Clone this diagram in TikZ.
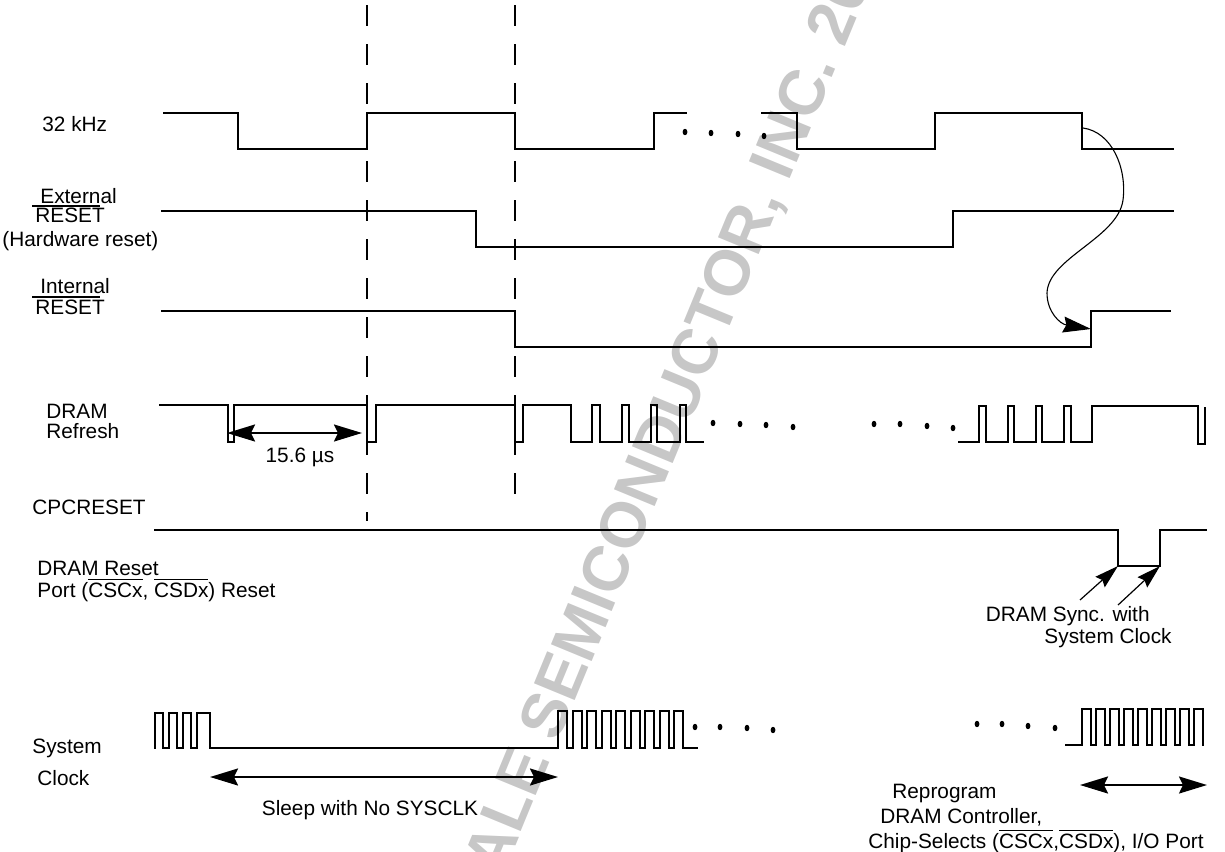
\documentclass[tikz,border=0pt]{standalone}
\usepackage{fontspec}
\setmainfont{Liberation Sans}
\usetikzlibrary{arrows.meta}
\newcommand{\olin}[1]{$\overline{\hbox{#1}}$}
\begin{document}
\begin{tikzpicture}[x=0.5pt,y=-0.5pt,
  sig/.style={line width=1pt, line join=miter, line cap=rect},
  thinsig/.style={line width=0.55pt},
  vdash/.style={line width=1pt, dash pattern=on 10.5pt off 9pt},
  lbl/.style={font=\fontsize{10.4}{12}\selectfont, inner sep=0pt, anchor=base west},
  lblc/.style={font=\fontsize{10.4}{12}\selectfont, inner sep=0pt},
  bigtip/.style={line width=1pt, {Stealth[length=14pt,width=8.5pt,inset=2pt]}-{Stealth[length=14pt,width=8.5pt,inset=2pt]}},
  synctip/.style={line width=0.6pt, -{Stealth[length=12pt,width=7pt,inset=1.5pt]}},
  wm/.style={font=\fontsize{32}{36}\selectfont\bfseries, text=black!22, inner sep=0pt}]
\useasboundingbox (0,0) rectangle (1225,851);

% watermark
\begin{scope}
\clip (0,0) rectangle (1225,851);
\node[wm, rotate=67.6, anchor=base west] (wmark) at (403,1119) {FREESCALE SEMICONDUCTOR, INC. 2005};
\end{scope}

% dashed guide lines
\draw[vdash] (367,5) -- (367,521);
\draw[vdash] (515,5) -- (515,502);

% labels
\node[lbl] (k32) at (42,131) {32 kHz};
\node[lbl] (ext1) at (40,203) {External};
\node[lbl] (ext2) at (35,222) {RESET};
\node[lbl] (ext3) at (2,246) {(Hardware reset)};
\draw[line width=0.7pt] (32,206) -- (100,206);
\node[lbl] (int1) at (40,293) {Internal};
\node[lbl] (int2) at (35,314) {RESET};
\draw[line width=0.7pt] (32,297) -- (100,297);
\node[lbl] (dr1) at (46,418) {DRAM};
\node[lbl] (dr2) at (46,438) {Refresh};
\node[lbl] (cpc) at (32,514) {CPCRESET};
\node[lbl] (drr1) at (37,575) {DRAM Reset};
\node[lbl] (drr2) at (37,597) {Port (\olin{CSCx}, \olin{CSDx}) Reset};
\node[lbl] (sys1) at (32,753) {System};
\node[lbl] (sys2) at (37,785) {Clock};
\node[lblc] (t156) at (300,457) {15.6 µs};
\node[lblc] (sleep) at (370,810) {Sleep with No SYSCLK};
\node[lbl, anchor=base east] (sync1) at (1150,621) {DRAM Sync. with};
\node[lbl, anchor=base east] (sync2) at (1172,643) {System Clock};
\node[lbl] (rp1) at (892,798) {Reprogram};
\node[lbl] (rp2) at (880,823) {DRAM Controller,};
\node[lbl] (rp3) at (868,848) {Chip-Selects (\olin{CSCx},\olin{CSDx}), I/O Port};

% 32 kHz
\draw[sig] (164,113) -- (238,113) -- (238,149) -- (367,149) -- (367,113) -- (515,113) -- (515,149) -- (654,149) -- (654,113) -- (686,113);
\draw[sig] (762,113) -- (797,113) -- (797,149) -- (935,149) -- (935,113) -- (1082,113) -- (1082,149) -- (1173,149);
\foreach \x/\y in {685/132,711/133,738/134,764/136}
  \fill (\x,\y) ellipse [x radius=1.2pt, y radius=1.6pt];

% External RESET
\draw[sig] (162,211) -- (476,211) -- (476,247) -- (953,247) -- (953,211) -- (1173,211);

% Internal RESET
\draw[sig] (162,311) -- (515,311) -- (515,347);
\draw[thinsig] (515,347) -- (1091,347);
\draw[sig] (1091,347) -- (1091,311) -- (1170,311);

% DRAM Refresh
\draw[sig] (160,405) -- (228,405) -- (228,442) -- (234,442) -- (234,405) -- (367,405) -- (367,442) -- (376,442) -- (376,405)
  -- (515,405) -- (515,442) -- (523,442) -- (523,405) -- (571,405) -- (571,442) -- (592,442) -- (592,405) -- (600,405)
  -- (600,442) -- (622,442) -- (622,405) -- (629,405) -- (629,442) -- (651,442) -- (651,405) -- (657,405) -- (657,442)
  -- (680,442) -- (680,405) -- (686,405) -- (686,442) -- (703,442);
\draw[sig] (959,442) -- (979,442) -- (979,406) -- (986,406) -- (986,442) -- (1008,442) -- (1008,406) -- (1014,406)
  -- (1014,442) -- (1036,442) -- (1036,406) -- (1042,406) -- (1042,442) -- (1064,442) -- (1064,406) -- (1071,406)
  -- (1071,442) -- (1092,442) -- (1092,406) -- (1198,406) -- (1198,444) -- (1205,444) -- (1205,408);
\foreach \x/\y in {713/423,740/424,766/425,793/427,874/424,900/424,927/426,953/428}
  \fill (\x,\y) ellipse [x radius=1.2pt, y radius=1.6pt];
\coordinate (d1) at (227,433);
\coordinate (d2) at (362,433);
\draw[bigtip] (d1) -- (d2);

% CPCRESET
\draw[sig] (155,530) -- (1118,530) -- (1118,566) -- (1160,566) -- (1160,530) -- (1206,530);
\coordinate (s1a) at (1080,600);
\coordinate (s1b) at (1118,566);
\coordinate (s2a) at (1118,605);
\coordinate (s2b) at (1160,566);
\draw[synctip] (s1a) -- (s1b);
\draw[synctip] (s2a) -- (s2b);

% curved arrow
\coordinate (c0) at (1083,128);
\coordinate (c1) at (1091,329);
\draw[line width=0.55pt, -{Stealth[length=14pt,width=8pt,inset=1.5pt]}] (c0) .. controls (1112,132) and (1127,168) .. (1123,200)
  .. controls (1118,238) and (1048,258) .. (1047,293) .. controls (1047,312) and (1060,324) .. (c1);

% System Clock
\draw[sig] (155,748) -- (155,713) -- (163,713) -- (163,748) -- (169,748) -- (169,713) -- (177,713) -- (177,748)
  -- (183,748) -- (183,713) -- (191,713) -- (191,748) -- (197,748) -- (197,713) -- (210,713) -- (210,748) -- (558,748)
  \foreach \i in {0,...,8} { -- ({558+14.5*\i},711) -- ({567+14.5*\i},711) -- ({567+14.5*\i},748) -- ({572.5+14.5*\i},748) }
  -- (697,748);
\draw[sig] (1066,745) -- (1082,745)
  \foreach \i in {0,...,7} { -- ({1082+14*\i},709) -- ({1091+14*\i},709) -- ({1091+14*\i},745) -- ({1096+14*\i},745) }
  -- (1194,709) -- (1203,709) -- (1203,745);
\foreach \x/\y in {695/727,720/727,747/728,773/730,977/724,1002/724,1028/726,1055/728}
  \fill (\x,\y) ellipse [x radius=1.2pt, y radius=1.6pt];
\coordinate (sl1) at (210,777);
\coordinate (sl2) at (558,777);
\draw[bigtip] (sl1) -- (sl2);
\coordinate (rp1a) at (1080,785);
\coordinate (rp1b) at (1207,785);
\draw[bigtip] (rp1a) -- (rp1b);
\end{tikzpicture}
\end{document}
